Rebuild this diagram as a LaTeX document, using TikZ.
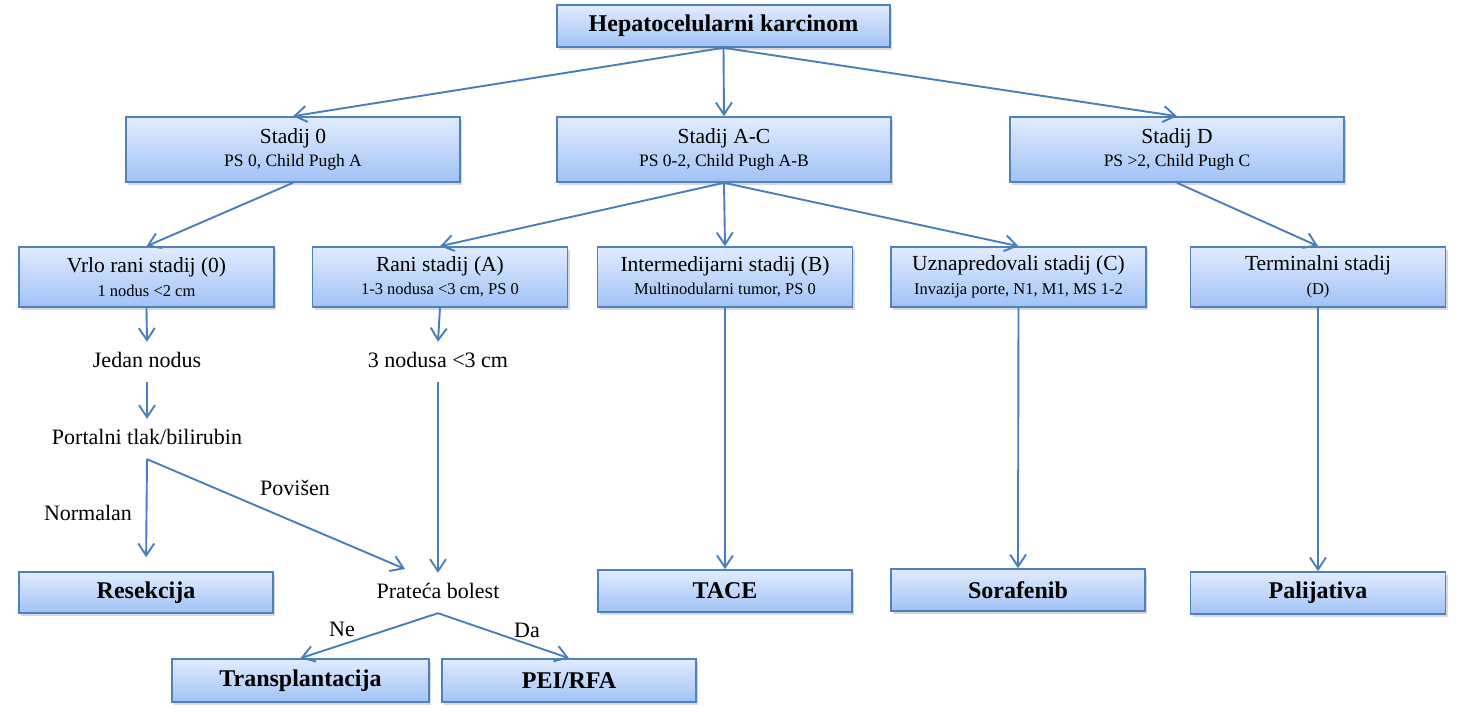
\documentclass[tikz,border=0pt]{standalone}
\usepackage{fontspec}
\setmainfont{Liberation Serif}
\usetikzlibrary{arrows.meta,shadows}
\definecolor{bdr}{RGB}{79,129,189}
\definecolor{arr}{RGB}{74,126,187}
\definecolor{boxtop}{RGB}{226,236,255}
\definecolor{boxbot}{RGB}{160,194,245}
\tikzset{box/.style={rectangle,draw=bdr,line width=1.6pt,top color=boxtop,bottom color=boxbot,drop shadow={opacity=.3,shadow xshift=2pt,shadow yshift=-3pt},align=center,inner sep=0pt,font=\fontsize{21.5}{23.5}\selectfont},
big/.style={box,minimum width=334pt,minimum height=65pt},
stg/.style={box,minimum width=255pt,minimum height=60pt},
res/.style={box,minimum width=255pt,minimum height=42pt,font=\bfseries\fontsize{24}{26}\selectfont},
txt/.style={inner xsep=2pt,inner ysep=10pt,text height=15pt,text depth=5pt,font=\fontsize{22}{24}\selectfont},
lbl/.style={inner sep=0pt,font=\fontsize{22}{24}\selectfont},
ar/.style={draw=arr,line width=1.9pt,-{Straight Barb[length=12pt,width=16pt]}}}
\begin{document}
\begin{tikzpicture}[x=1pt,y=-1pt]
\useasboundingbox (0,0) rectangle (1465,718);
\node[res,minimum width=333pt] (hcc) at (723.5,26) {Hepatocelularni karcinom};
\node[big] (s0) at (293,149.5) {Stadij 0\\{\fontsize{17.5}{20}\selectfont PS 0, Child Pugh A}};
\node[big] (ac) at (724,149.5) {Stadij A-C\\{\fontsize{17.5}{20}\selectfont PS 0-2, Child Pugh A-B}};
\node[big] (sd) at (1177,149.5) {Stadij D\\{\fontsize{17.5}{20}\selectfont PS >2, Child Pugh C}};
\node[stg] (vr) at (146.5,277) {Vrlo rani stadij (0)\\{\fontsize{16.5}{19}\selectfont 1 nodus <2 cm}};
\node[stg] (ra) at (440,277) {Rani stadij (A)\\{\fontsize{16.5}{19}\selectfont 1-3 nodusa <3 cm, PS 0}};
\node[stg] (im) at (725,277) {Intermedijarni stadij (B)\\{\fontsize{16.5}{19}\selectfont Multinodularni tumor, PS 0}};
\node[stg] (uz) at (1018.5,277) {Uznapredovali stadij (C)\\{\fontsize{16.5}{19}\selectfont Invazija porte, N1, M1, MS 1-2}};
\node[stg] (te) at (1318,277) {Terminalni stadij\\{\fontsize{16.5}{19}\selectfont (D)}};
\node[txt] (jn) at (147,362) {Jedan nodus};
\node[txt] (pt) at (147,439) {Portalni tlak/bilirubin};
\node[txt] (tn) at (438,362) {3 nodusa <3 cm};
\node[txt] (pb) at (438,593) {Prateća bolest};
\node[lbl] (nor) at (88,513) {Normalan};
\node[lbl] (pov) at (295,488) {Povišen};
\node[lbl] (ne) at (342,629) {Ne};
\node[lbl] (da) at (527,630) {Da};
\coordinate (pv) at (405,569);
\node[res,minimum width=254pt,minimum height=41pt] (rs) at (146,592.5) {Resekcija};
\node[res,minimum width=254pt] (ta) at (725,591) {TACE};
\node[res,minimum width=254pt] (so) at (1018,590) {Sorafenib};
\node[res] (pa) at (1318,593) {Palijativa};
\node[res,minimum width=257pt,minimum height=43pt] (tp) at (300.5,680.5) {Transplantacija};
\node[res,minimum width=254pt,minimum height=43pt] (pr) at (569,680.5) {PEI/RFA};
\path[every edge/.style={ar}] (hcc.south) edge (s0.north) edge (ac.north) edge (sd.north)
 (s0.south) edge (vr.north) (ac.south) edge (ra.north) edge (im.north) edge (uz.north) (sd.south) edge (te.north)
 (vr.south) edge (jn.north) (jn.south) edge (pt.north) (pt.south) edge[shorten >=14pt] (rs.north) edge (pv)
 (ra.south) edge (tn.north) (tn.south) edge (pb.north) (pb.south) edge (tp.north) edge (pr.north)
 (im.south) edge (ta.north) (uz.south) edge (so.north) (te.south) edge (pa.north);
\end{tikzpicture}
\end{document}
